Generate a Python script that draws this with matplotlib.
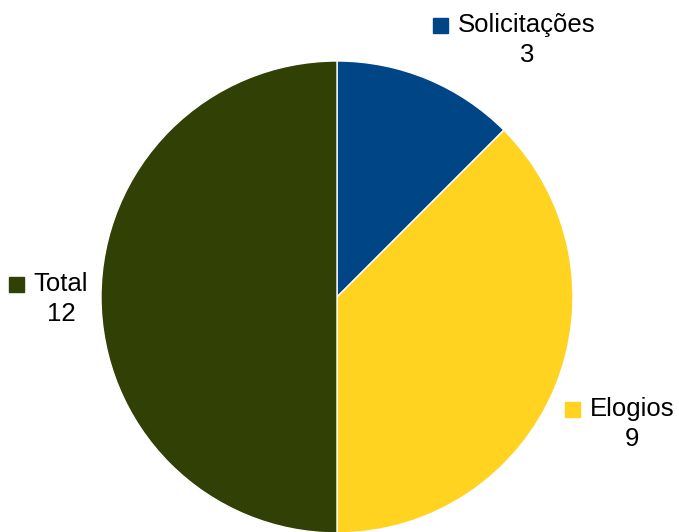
import matplotlib.pyplot as plt

# Values
labels = ['Solicitações', 'Elogios', 'Total']
values = [3, 9, 12]
colors = ['#004586', '#ffd320', '#314004']

# label anchor points (pixel coords, top-left origin): text centre
label_pos = [(527, 25), (632, 409), (61, 284)]

plt.rcParams['font.family'] = ['Liberation Sans', 'DejaVu Sans']

W, H = 679, 532
fig = plt.figure(figsize=(W / 100, H / 100), dpi=100)
ax = fig.add_axes([0, 0, 1, 1])

ax.pie(values, colors=colors, startangle=90, counterclock=False,
       center=(337, H - 297), radius=236, frame=True,
       wedgeprops=dict(edgecolor='white', linewidth=1))
ax.set_xlim(0, W)
ax.set_ylim(0, H)
ax.set_aspect('equal')
ax.axis('off')

for lab, val, col, (cx, cy) in zip(labels, values, colors, label_pos):
    t = ax.text(cx, H - cy, lab, fontsize=18.5, ha='center', va='center')
    fig.canvas.draw()
    bb = t.get_window_extent().transformed(ax.transData.inverted())
    ax.plot(bb.x0 - 18, H - cy, marker='s', markersize=10.8, color=col,
            linestyle='none')
    ax.text(cx, H - cy - 30, str(val), fontsize=18.5, ha='center', va='center')

fig.savefig('out.png', dpi=100)
